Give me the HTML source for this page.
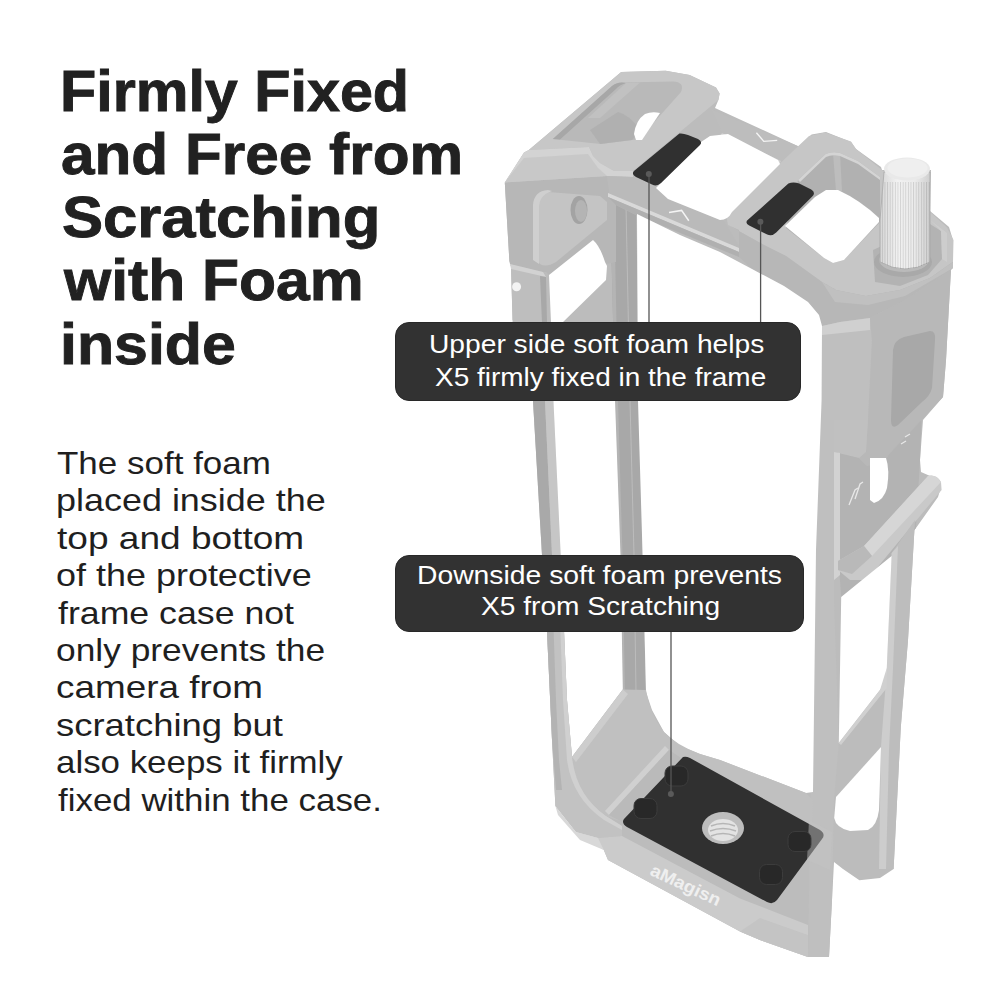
<!DOCTYPE html>
<html><head><meta charset="utf-8">
<style>
html,body{margin:0;padding:0;background:#fff;}
body{width:1000px;height:1000px;position:relative;overflow:hidden;font-family:"Liberation Sans",sans-serif;}
#cage{position:absolute;left:0;top:0;width:1000px;height:1000px;}
.tx{position:absolute;white-space:nowrap;line-height:1;transform-origin:0 0;}
.title{font-size:57px;font-weight:bold;color:#212121;-webkit-text-stroke:0.9px #212121;}
.body{font-size:31.5px;color:#1f1f1f;}
.co{font-size:25.5px;color:#fff;}
.box{position:absolute;background:#323232;border-radius:14px;border:1px solid #282828;box-sizing:border-box;}
</style></head><body>
<svg id="cage" viewBox="0 0 1000 1000">
<defs>
<linearGradient id="knobg" x1="0" x2="1" y1="0" y2="0">
<stop offset="0" stop-color="#d6d6d6"/><stop offset="0.35" stop-color="#f2f2f2"/><stop offset="0.7" stop-color="#ebebeb"/><stop offset="1" stop-color="#cfcfcf"/>
</linearGradient>
<pattern id="knurl" x="0.5" y="0" width="2.6" height="200" patternUnits="userSpaceOnUse">
<rect x="0" y="0" width="0.9" height="200" fill="#000" opacity="0.12"/>
</pattern>
<linearGradient id="floorg" x1="0" x2="1" y1="0" y2="0">
<stop offset="0" stop-color="#c9c9c9"/><stop offset="1" stop-color="#bcbcbc"/>
</linearGradient>
</defs>

<!-- base silhouette -->
<path fill="#bcbcbc" d="M504.8,182.4 L524,152.4 L528.8,150 L621.2,72 L665.6,70.8 L689.6,74.9 L716,87.6 L719.6,93.6 L718.4,100 L715,108 L798.8,146.4 L811.6,134.4 L826,132 L851,142 L856,149 L881,167 L882,170 L931,170 L930,211 L949,227 L953,240 L953,266 L951,268 L946,360 L943,397 L923,420 L920,460 L921,472 L937,479 L941,487 L938,497 L916,528 L914.4,530 L908,640 L900.8,727 L893.6,869 L880,878 L859.4,880.2 L843,869 L834,862 L832,900 L829,957 L808,957 L760,940 L740,931.4 L608,860 L603.8,850 L598,838 L576,832 L555.4,806 L552,740 L547,632 L542,555 L533,401 L519,322 L512.6,320 L511,266 L509.4,261 Z"/>

<!-- back-left rail -->
<path fill="#a8a8a8" d="M610,196 L636,206 L642.6,555 L646,692 L626,697 L623,692 L620.5,555 L615,401 Z"/>
<path fill="#b4b4b4" d="M610,196 L614,198 L618,401 L622.5,555 L625,692 L623,692 L620.5,555 L615,401 Z"/>
<path fill="none" stroke="#bcbcbc" stroke-width="1" d="M626,205 L630,401 L634,555 L636,692"/>
<!-- left rail -->
<path fill="#a9a9a9" d="M533,401 L545,401 L552,555 L555,640 L548,640 L542,555 Z"/>
<path fill="#c6c6c6" d="M545,401 L553.4,401 L560.7,555 L556,555 L552,555 Z"/>

<!-- left lug side face -->
<path fill="#b7b7b7" d="M504.8,182.4 L607,176 L610,196 L616,205 L616,262 L549,275 L546,272 L543,272 L510,264 L509.4,261 Z"/>
<path fill="#c4c4c4" d="M535,205 Q536,193 548,192 L600,196 L607,202 L607,220 L556,262 Q546,268 540,264 L535,258 Z"/>
<path fill="#cfcfcf" d="M533,205 Q534,191 548,190 L552,191 Q539,195 539,208 L539,264 L533,260 Z"/>
<ellipse cx="579" cy="210" rx="8.5" ry="14" fill="#a3a3a3"/>
<ellipse cx="581" cy="211" rx="6" ry="11" fill="#b4b4b4"/>
<!-- left tab -->
<path fill="#bebebe" d="M510,264.4 L543,272.4 L546.2,323 L512.6,323 L511,266 Z"/>
<path fill="#d2d2d2" d="M510,264 L543,272 L546,277 L511,269 Z"/>
<path fill="#a8a8a8" d="M540,276 L546,277 L547,323 L542,323 Z"/>
<circle cx="516.6" cy="286.8" r="4.5" fill="#f3f3f3"/>

<!-- left lug top face -->
<path fill="#c7c7c7" d="M528.8,150 L621.2,72 L665.6,70.8 L689.6,74.9 L716,87.6 L719.6,93.6 L718.4,100 L633,171 L614,171 L600,163 L593,156 L589,147 Z"/>
<!-- lug front band -->
<path fill="#d3d3d3" d="M504.8,182.4 L524,152.4 L528.8,150 L589,147 L593,156 L600,163 L614,171 L633,171 L633,177 L607,176 Z"/>
<path fill="#bdbdbd" d="M504.8,182.4 L524,158 L588,154 L598,168 L607,176 Z" opacity="0.5"/>
<!-- recess -->
<path fill="#b9b9b9" d="M552.8,139 L612,86 Q616,82.5 622,82.5 L672.8,81.6 Q685,82 681,92 L641,137 Q638,140 632,140 L600.8,144 Z"/>
<path fill="#a7a7a7" d="M552.8,139 L612,86 Q616,82.5 622,82.5 L626,83 Q619,85 616,89 L560,139.5 Z"/>
<path fill="#c3c3c3" d="M626,83 L640,82.5 L600,118 L588,118 Z" opacity="0.8"/>
<path fill="#adadad" d="M600,144 L632,140 L640,130 Q630,115 618,112 L590,130 Z" opacity="0.7"/>
<path fill="#fff" d="M634,134 Q636,120 645,114 Q652,111 660,113 L642,140 L636,140 Z"/>

<!-- back bar -->
<path fill="#bdbdbd" d="M712,110 L798.8,146.4 L781,162 L722,133 Z"/>
<path fill="#cfcfcf" d="M722,133 L781,161 L779,164 L720,136 Z"/>


<polyline points="756.4,132.8 763.8,141.4 777.2,140.4" fill="none" stroke="#f4f4f4" stroke-width="1.4"/>
<!-- front crossbar -->
<path fill="#bababa" d="M607,176 L633,177 L656,188 L668,199 L724,221 L739,246 L739,257 L634,214 L616,205 L610,196 Z"/>
<path fill="#d9d9d9" d="M608,193 L739,248 L739,252 L608,197 Z"/>
<path fill="#b0b0b0" d="M608,197 L739,252 L739,257 L634,214 L616,205 Z"/>
<polyline points="669,212.5 681.6,210.4 688.8,220.8" fill="none" stroke="#f4f4f4" stroke-width="1.5"/>

<!-- right lug -->
<path fill="#c6c6c6" d="M726,214 L809,136 L825,132.5 L851,141.6 L856,149 L882,170 L930,212 L947,227.5 L953.5,240 L953,262 L930,278 L900,290 L866,296 L836,290 L822,282 L786,256 L765,245.6 L728,225 Z"/>
<path fill="#b7b7b7" d="M728,225 L765,245.6 L786,256 L822,282 L836,290 L866,296 L900,290 L930,278 L953,262 L953,268 L951,270 L905,300 L870,318 L840,322 L822,326 L819,315 L808,302 L784,286 L752,269 L739,257 L739,230 Z"/>
<path fill="#c0c0c0" d="M822,282 L836,290 L866,296 L900,290 L930,278 L953,262 L953,268 L905,296 L868,305 L835,302 Z"/>
<!-- right lug hole rim & hole -->
<path fill="#b1b1b1" d="M786,228 L798,180 L825.6,154 Q832,151 840,153 L858,161 L880,177 L880,222 L844,260 L833,263 L824,258 Z"/>
<path fill="#bdbdbd" d="M833,153.5 L840,153 L842,191 L836,191 Z"/>
<path fill="#d4d4d4" d="M798,180 L825.6,154 Q832,151 840,153 L858,161 L880,177 L880,180 L858,164 L840,156 Q832,154 826,157 L800,182 Z"/>
<path fill="#fff" d="M785,226 L815,197 L826,190 L838,190 Q860,200 879,218 L879,222 L844,260 L833,263 L824,258 Z"/>

<!-- right pillar -->
<path fill="#bfbfbf" d="M822,326 L840,322 L870,318 L872,340 L868,420 L866,452 L834,452 L834,600 L838.8,743 L834,800 L832,900 L829,957 L808,957 L811,760 L814.8,520 L821.6,400 Z"/>
<path fill="#d0d0d0" d="M822,326 L840,322 L870,318 L870,330 L822,335 Z"/>
<path fill="#b8b8b8" d="M870,318 L905,300 L951,270 L946,360 L943,397 L921.6,420 L889.6,453.6 L883,463 L867,466 L859,458 L866,452 L868,420 L872,340 Z"/>
<path fill="#c0c0c0" d="M834,420 L868,420 L866,452 L859,458 L834,452 Z"/>
<path fill="#a8a8a8" d="M893,350 Q894,340 904,337 L930,331 Q936,331 935,340 L932,388 Q930,396 922,402 L898,425 Q891,430 891,420 Z"/>
<!-- recessed panel under block -->
<path fill="#b3b3b3" d="M834,452 L859,458 L867,466 L883,463 L889.6,453.6 L921.6,420 L920,460 L916,528 L891.6,556 L841.2,597 L840,580 L838,561 L840,455 Z"/>
<path fill="#d2d2d2" d="M834,452 L840,453 L840,575 L834,580 Z"/>
<path fill="#fff" d="M870,458 L886,458 Q890,470 887,488 Q884,500 874,503 L870,500 Z"/>
<!-- shelf -->
<path fill="#c9c9c9" d="M838,561 L864,546 L928,476 Q936,474 941,482 L941.6,490 L867,580 L850,580 L838,570 Z"/>
<path fill="#d6d6d6" d="M864,546 L928,476 Q936,474 941,482 L872,556 Z"/>
<path fill="#b9b9b9" d="M838,561 L864,546 L872,556 L852,574 L838,570 Z"/>
<!-- right rail -->
<path fill="#bdbdbd" d="M891.6,553 L915,520 L908,640 L900.8,727 L893.6,869 L879,869 L881,747 L886.8,668 Z"/>
<path fill="#cdcdcd" d="M891.6,553 L898,546 L893,668 L889,750 L886,869 L879,869 L881,747 L886.8,668 Z"/>

<!-- holes -->
<g fill="#fff">
<path d="M549,275 L593,240 Q600,246 605,262 L607,266 L606,280 L562,323 L551,323 Z"/>
<path d="M553.4,400 L615,400 L620.5,555 L622.8,689.6 L572,757 L567,700 L560.7,555 Z"/>
<path d="M637,214 L680,235 L720,252 L752,269 L784,286 L808,302 L819,315 L822,326 L821.6,400 L816,550 L813,792 L806,793 L720,760 L700,754 L680,746 L664,732 L652,710 L646,692 L642.6,555 L638,401 Z"/>
<path d="M656,188 L701,142 L710,136 L728,134 L778,160 L780,164 L732,212 Q728,220 720,220 L668,199 Z"/>
<path d="M841.2,597 L891.6,556 L886.8,668 Q886,684 880,690 L838.8,743 Z"/>
<path d="M836,797 L881,747 L879,810 Q877,826 868,830 L850,831 Q836,828 834.2,818 Z"/>
</g>
<path fill="#d0d0d0" d="M880,690 L886.8,668 L886.8,688 L841,745 L838.8,743 Z"/>

<!-- bottom floor & walls -->
<path fill="#c0c0c0" d="M572,757 L622.8,689.6 L646,690 Q650,715 664,732 Q676,745 700,754 L720,760 L806,793 L813,800 L811,850 L760,830 L681,758 L622,822 L606,816 Q585,800 578,785 Z"/>
<path fill="#cdcdcd" d="M572,757 L622.8,689.6 L628,694 L576,762 Z"/>
<path fill="#d0d0d0" d="M605,811 L665,746 L669,750 L609,815 Z"/>
<path fill="#bababa" d="M609,815 L669,750 L681,758 L622,822 Z"/>
<!-- left rail lower -->
<path fill="#c2c2c2" d="M547,632 L552,740 L555.4,806 L576,832 L598,838 L622,836 L622,826 L606,816 Q585,800 578,785 L572,757 L567,700 L560.7,555 Z"/>
<path fill="#b3b3b3" d="M542,555 L551,555 L556,700 L559,760 L562,790 L556,790 L552,740 L547,632 Z"/>
<path fill="#d0d0d0" d="M560.7,555 L567,700 L572,757 Q576,795 606,816 L622,826 L622,830 L604,820 Q572,798 567,760 L563,700 L557.5,555 Z"/>
<!-- bottom front band -->
<path fill="#cbcbcb" d="M576,832 L598,838 L622,836 L740,898.4 L808,925 L808,957 L760,940 L740,931.4 L608,860 L603.8,850 Z"/>
<path fill="#d8d8d8" d="M555.4,806 L576,832 L598,838 L603.8,850 L580,840 L558,815 Z"/>
<path fill="#c4c4c4" d="M740,931.4 L760,940 L808,957 L808,935 L760,918 Z"/>
<text x="0" y="0" transform="translate(649,874.5) rotate(25) scale(1.08,1)" font-family="Liberation Sans" font-weight="bold" font-size="17.5" fill="#efefef">aMagisn</text>

<!-- foam pads -->
<g fill="#303030">
<path d="M679.4,133.5 Q683,133 688,135 L698,139 Q703,142 700,145 L661,183 Q657,187 652,184.5 L636,177 Q631,174 634,171 Z"/>
<path transform="translate(-0.8,1.6)" d="M789.2,182 Q794,180 800,182 L812,188 Q817,191 813,195 L777,231 Q773,235 768,233 L750,224 Q745,221 749,218 Z"/>
<path d="M683,757 Q686,756 690,758 L820,830 Q826,834 822,839 L777,900 Q773,905 767,902 L627,827 Q621,823 624,819 Z"/>
</g>
<!-- pillar ghost over pad -->
<path fill="#c3c3c3" opacity="0.45" d="M809,820 L832,832 L830,870 L807,860 Z"/>
<g fill="#282828" stroke="#3c3c3c" stroke-width="1">
<rect x="665" y="766" width="23" height="20" rx="7"/>
<rect x="634" y="798.5" width="23" height="20" rx="7"/>
<rect x="788" y="831.5" width="23" height="20" rx="7"/>
<rect x="759.5" y="864.5" width="23" height="20" rx="7"/>
</g>
<ellipse cx="723" cy="828" rx="21" ry="16" fill="#bdbdbd"/>
<ellipse cx="723" cy="830" rx="15" ry="11" fill="#e3e3e3"/>
<g fill="none" stroke="#b5b5b5" stroke-width="1.5">
<path d="M711,826 Q723,821 735,826"/><path d="M710,831 Q723,826 736,831"/><path d="M711,836 Q723,831 735,836"/>
</g>

<!-- knob -->
<path fill="#b3b3b3" d="M873,250 L930,224 L941,231 L942,259 L928,275 L900,286 L875,282 Z"/>
<path fill="#d0d0d0" d="M930,220 L947,233 L947,262 L942,259 L941,231 Z" opacity="0.7"/>
<ellipse cx="903" cy="262" rx="29" ry="15" fill="#a9a9a9"/>
<ellipse cx="904" cy="260" rx="25" ry="12" fill="#bababa"/>
<path fill="url(#knobg)" stroke="#a8a8a8" stroke-width="0.8" d="M884,172 L930,172 L930,262 Q905,276 880,262 L880,220 Z"/>
<path fill="url(#knurl)" d="M884,182 L930,182 L930,262 Q905,276 880,262 L880,220 Z"/>
<ellipse cx="907" cy="169" rx="23" ry="11.5" fill="#e9e9e9"/>
<ellipse cx="907.5" cy="168" rx="20" ry="9.5" fill="#efefef"/>

<!-- small marks on pillar -->
<g stroke="#e8e8e8" stroke-width="1.3" fill="none">
<path d="M905,437 L910,434"/><path d="M901,444 L906,441"/>
<path d="M849,505 L855,490 L858,488"/><path d="M855,499 L860,484 L863,482"/>
</g>

<!-- lines -->
<g stroke="#555" stroke-width="1.3">
<line x1="649" y1="174" x2="649" y2="322"/>
<line x1="760.6" y1="221.7" x2="760.6" y2="322"/>
<line x1="671" y1="631" x2="671" y2="794"/>
</g>
<g fill="#5a5a5a">
<circle cx="648.8" cy="174" r="3"/>
<circle cx="760.4" cy="221.7" r="3"/>
<circle cx="670.9" cy="793.9" r="3"/>
</g>
</svg>

<div class="box" style="left:395.2px;top:322.2px;width:405.4px;height:78.6px;"></div>
<div class="box" style="left:395.4px;top:555.4px;width:408.4px;height:76.2px;"></div>
<div class="tx title" style="left:60.44px;top:62.80px;transform:scaleX(1.0396)">Firmly Fixed</div>
<div class="tx title" style="left:61.17px;top:126.00px;transform:scaleX(1.0579)">and Free from</div>
<div class="tx title" style="left:61.50px;top:189.20px;transform:scaleX(1.0808)">Scratching</div>
<div class="tx title" style="left:64.05px;top:252.40px;transform:scaleX(1.0631)">with Foam</div>
<div class="tx title" style="left:60.45px;top:315.60px;transform:scaleX(1.0678)">inside</div>
<div class="tx body" style="left:56.81px;top:448.00px;transform:scaleX(1.1108)">The soft foam</div>
<div class="tx body" style="left:55.62px;top:485.40px;transform:scaleX(1.1409)">placed inside the</div>
<div class="tx body" style="left:57.00px;top:522.80px;transform:scaleX(1.1762)">top and bottom</div>
<div class="tx body" style="left:56.47px;top:560.20px;transform:scaleX(1.1412)">of the protective</div>
<div class="tx body" style="left:57.81px;top:597.60px;transform:scaleX(1.1327)">frame case not</div>
<div class="tx body" style="left:56.19px;top:635.00px;transform:scaleX(1.1221)">only prevents the</div>
<div class="tx body" style="left:56.14px;top:672.40px;transform:scaleX(1.1704)">camera from</div>
<div class="tx body" style="left:56.22px;top:709.80px;transform:scaleX(1.1566)">scratching but</div>
<div class="tx body" style="left:56.21px;top:747.20px;transform:scaleX(1.1070)">also keeps it firmly</div>
<div class="tx body" style="left:57.71px;top:784.60px;transform:scaleX(1.1078)">fixed within the case.</div>
<div class="tx co" style="left:428.92px;top:332.20px;transform:scaleX(1.1055)">Upper side soft foam helps</div>
<div class="tx co" style="left:434.88px;top:364.60px;transform:scaleX(1.0972)">X5 firmly fixed in the frame</div>
<div class="tx co" style="left:417.26px;top:563.00px;transform:scaleX(1.1099)">Downside soft foam prevents</div>
<div class="tx co" style="left:481.28px;top:593.80px;transform:scaleX(1.1029)">X5 from Scratching</div>
</body></html>
